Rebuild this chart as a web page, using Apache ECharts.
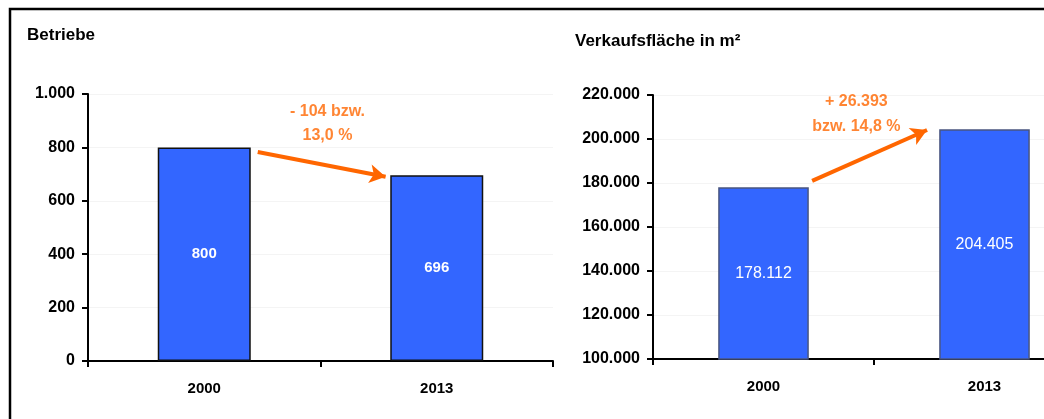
<!DOCTYPE html>
<html>
<head>
<meta charset="utf-8">
<script src="https://cdn.jsdelivr.net/npm/echarts@6/dist/echarts.min.js"></script>
<style>
  html, body { margin: 0; padding: 0; background: #fff; }
  #chart { width: 1044px; height: 419px; }
</style>
</head>
<body>
<div id="chart"></div>
<script>
// Kategorien und Werte
const years = ['2000', '2013'];
const betriebe = [800, 696];
const flaeche = [178112, 204405];

// Achsenbereiche
const betriebeAxis = { min: 0, max: 1000, interval: 200 };
const flaecheAxis = { min: 100000, max: 220000, interval: 20000 };

// Pfeile und Texte (x in Kategorie-Einheiten 0..2, y in Achsenwerten)
const arrowLeft = [[0.73, 783], [1.28, 690]];
const arrowRight = [[0.72, 181000], [1.24, 204100]];
const noteLeft = ['- 104 bzw.', '13,0 %'];
const noteLeftPos = [[1.03, 933], [1.03, 846]];
const noteRight = ['+ 26.393', 'bzw. 14,8 %'];
const noteRightPos = [[0.92, 216800], [0.92, 205500]];

const fmt = v => String(v).replace(/\B(?=(\d{3})+(?!\d))/g, '.');
const font = 'Liberation Sans, Arial, sans-serif';
const orange = '#FF6600';

const chart = echarts.init(document.getElementById('chart'));

function catAxis(grid) {
  return {
    type: 'category', gridIndex: grid, data: years,
    axisLine: { lineStyle: { color: '#000', width: 2 } },
    axisTick: { show: true, length: 6, lineStyle: { color: '#000', width: 2 } },
    axisLabel: { color: '#000', fontWeight: 'bold', fontSize: 15, fontFamily: font, margin: 20 }
  };
}
function valAxis(grid, ax) {
  return {
    type: 'value', gridIndex: grid, min: ax.min, max: ax.max, interval: ax.interval,
    axisLine: { show: true, lineStyle: { color: '#000', width: 2 } },
    axisTick: { show: true, inside: false, length: 6, lineStyle: { color: '#000', width: 2 } },
    splitLine: { show: true, lineStyle: { color: '#f4f4f4', width: 1 } },
    axisLabel: { color: '#000', fontWeight: 'bold', fontSize: 16, fontFamily: font, margin: 13, formatter: fmt }
  };
}
// unsichtbare Wertachse fuer Pfeile
function hiddenX(grid) {
  return { type: 'value', gridIndex: grid, min: 0, max: 2, show: false };
}

function noteSeries(xi, yi, lines, pos, arrow) {
  return {
    type: 'scatter', xAxisIndex: xi, yAxisIndex: yi,
    symbolSize: 0, silent: true,
    data: pos.map((p, i) => ({ value: p, label: { formatter: lines[i] } })),
    label: {
      show: true, position: 'inside', color: orange, fontWeight: 'bold',
      fontSize: 16, fontFamily: font
    },
    markLine: {
      silent: true, symbol: ['none', 'arrow'], symbolSize: [14, 16],
      lineStyle: { color: orange, width: 4, type: 'solid' },
      label: { show: false },
      data: [[{ coord: arrow[0] }, { coord: arrow[1] }]]
    }
  };
}

chart.setOption({
  animation: false,
  title: [
    { text: 'Betriebe', left: 22, top: 22, textStyle: { fontSize: 17, fontWeight: 'bold', fontFamily: font, color: '#000' } },
    { text: 'Verkaufsfläche in m²', left: 570, top: 28, textStyle: { fontSize: 17, fontWeight: 'bold', fontFamily: font, color: '#000' } }
  ],
  grid: [
    { left: 88, top: 94, width: 465, height: 267, outerBoundsMode: 'none' },
    { left: 653, top: 95, width: 442, height: 264, outerBoundsMode: 'none' }
  ],
  xAxis: [catAxis(0), catAxis(1), hiddenX(0), hiddenX(1)],
  yAxis: [valAxis(0, betriebeAxis), valAxis(1, flaecheAxis)],
  graphic: [{
    type: 'rect', silent: true, z: 100,
    shape: { x: 10, y: 9, width: 1100, height: 500 },
    style: { fill: 'none', stroke: '#000', lineWidth: 2.5 }
  }],
  series: [
    {
      type: 'bar', xAxisIndex: 0, yAxisIndex: 0, data: betriebe, barWidth: '40%',
      itemStyle: { color: '#3366FF', borderColor: '#111', borderWidth: 1.5 },
      label: { show: true, position: 'inside', color: '#fff', fontSize: 15, fontWeight: 'bold', fontFamily: font }
    },
    {
      type: 'bar', xAxisIndex: 1, yAxisIndex: 1, data: flaeche, barWidth: '41%',
      itemStyle: { color: '#3366FF', borderColor: '#4a5680', borderWidth: 1.5 },
      label: { show: true, position: 'inside', color: '#fff', fontSize: 16, fontFamily: font, formatter: p => fmt(p.value) }
    },
    noteSeries(2, 0, noteLeft, noteLeftPos, arrowLeft),
    noteSeries(3, 1, noteRight, noteRightPos, arrowRight)
  ]
});
</script>
</body>
</html>
